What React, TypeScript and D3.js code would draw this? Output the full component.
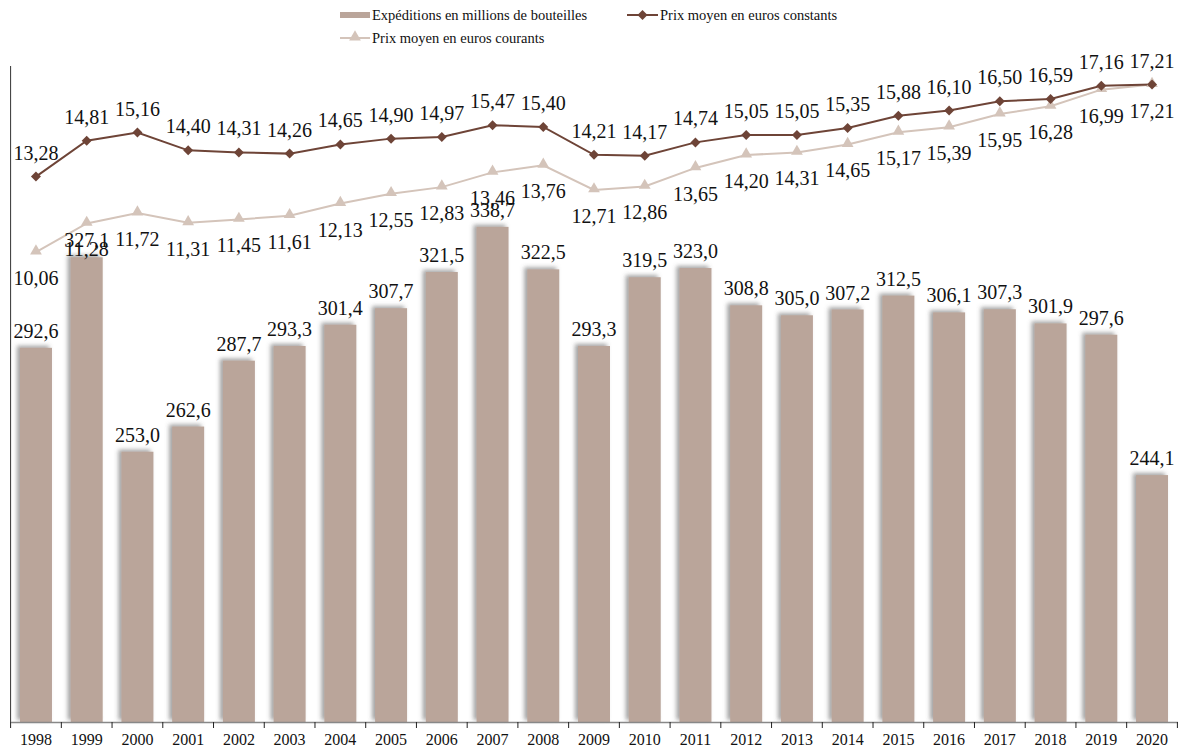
import { useRef, useEffect } from 'react';
import * as d3 from 'd3';

const years = ['1998', '1999', '2000', '2001', '2002', '2003', '2004', '2005', '2006', '2007', '2008', '2009', '2010', '2011', '2012', '2013', '2014', '2015', '2016', '2017', '2018', '2019', '2020'];
const shipments = [292.6, 327.1, 253.0, 262.6, 287.7, 293.3, 301.4, 307.7, 321.5, 338.7, 322.5, 293.3, 319.5, 323.0, 308.8, 305.0, 307.2, 312.5, 306.1, 307.3, 301.9, 297.6, 244.1];
const constantPrice = [13.28, 14.81, 15.16, 14.40, 14.31, 14.26, 14.65, 14.90, 14.97, 15.47, 15.40, 14.21, 14.17, 14.74, 15.05, 15.05, 15.35, 15.88, 16.10, 16.50, 16.59, 17.16, 17.21];
const currentPrice = [10.06, 11.28, 11.72, 11.31, 11.45, 11.61, 12.13, 12.55, 12.83, 13.46, 13.76, 12.71, 12.86, 13.65, 14.20, 14.31, 14.65, 15.17, 15.39, 15.95, 16.28, 16.99, 17.21];

const BAR = '#BAA59A';
const DARK = '#6E4437';
const LIGHT = '#D4C4BA';
const FONT = "'Liberation Serif', 'DejaVu Serif', serif";

const fmt = (v: number, d: number) => v.toFixed(d).replace('.', ',');

export default function App() {
  const svgRef = useRef<SVGSVGElement>(null);

  useEffect(() => {
    if (!svgRef.current) return;
    const svg = d3.select(svgRef.current);
    svg.selectAll('*').remove();

    const left = 10.6;
    const right = 1177.4;
    const top = 66;
    const bottom = 722;

    const x = d3.scaleBand<string>().domain(years).range([left, right]);
    const cx = (i: number) => (x(years[i]) ?? 0) + x.bandwidth() / 2;
    const yBar = d3.scaleLinear().domain([150, 400]).range([bottom, top]);
    const yPrice = d3.scaleLinear().domain([-10, 18]).range([bottom, top]);

    // Shadow filter
    const defs = svg.append('defs');
    const f = defs.append('filter').attr('id', 'shadow').attr('x', '-30%').attr('y', '-10%').attr('width', '160%').attr('height', '120%');
    f.append('feDropShadow')
      .attr('dx', -3)
      .attr('dy', -2)
      .attr('stdDeviation', 2)
      .attr('flood-color', '#555')
      .attr('flood-opacity', 0.55);

    // Bars
    const barW = 32;
    svg.append('g')
      .selectAll('rect')
      .data(shipments)
      .join('rect')
      .attr('x', (_d, i) => cx(i) - barW / 2)
      .attr('y', (d) => yBar(d))
      .attr('width', barW)
      .attr('height', (d) => bottom - yBar(d))
      .attr('fill', BAR)
      .attr('filter', 'url(#shadow)');

    // Axes
    svg.append('line')
      .attr('x1', left).attr('x2', left)
      .attr('y1', top).attr('y2', bottom)
      .attr('stroke', '#333').attr('stroke-width', 1);
    const xAxis = svg.append('g')
      .attr('transform', `translate(0,${bottom})`)
      .call(d3.axisBottom(x).tickSize(0).tickPadding(12));
    xAxis.select('.domain').attr('stroke', '#888').attr('stroke-width', 1.5);
    xAxis.selectAll('text').style('font-family', FONT).style('font-size', '16px').attr('fill', '#111');
    // band boundary ticks
    svg.append('g')
      .selectAll('line')
      .data(d3.range(years.length + 1))
      .join('line')
      .attr('x1', (i) => left + i * x.step())
      .attr('x2', (i) => left + i * x.step())
      .attr('y1', bottom)
      .attr('y2', bottom + 6)
      .attr('stroke', '#222');

    // Lines
    const line = (arr: number[]) =>
      d3.line<number>().x((_d, i) => cx(i)).y((d) => yPrice(d))(arr);

    svg.append('path').attr('d', line(currentPrice)).attr('fill', 'none').attr('stroke', LIGHT).attr('stroke-width', 2);
    svg.append('path').attr('d', line(constantPrice)).attr('fill', 'none').attr('stroke', DARK).attr('stroke-width', 2);

    const tri = d3.symbol().type(d3.symbolTriangle).size(60);
    const dia = d3.symbol().type(d3.symbolSquare).size(50);

    svg.append('g')
      .selectAll('path')
      .data(currentPrice)
      .join('path')
      .attr('d', tri)
      .attr('transform', (d, i) => `translate(${cx(i)},${yPrice(d) - 1})`)
      .attr('fill', LIGHT);

    svg.append('g')
      .selectAll('path')
      .data(constantPrice)
      .join('path')
      .attr('d', dia)
      .attr('transform', (d, i) => `translate(${cx(i)},${yPrice(d)}) rotate(45)`)
      .attr('fill', DARK);

    // Labels
    const labelStyle = (sel: d3.Selection<SVGTextElement, number, SVGGElement, unknown>) =>
      sel.style('font-family', FONT).style('font-size', '20px').attr('fill', '#111').attr('text-anchor', 'middle');

    svg.append('g')
      .selectAll('text')
      .data(shipments)
      .join('text')
      .attr('x', (_d, i) => cx(i))
      .attr('y', (d) => yBar(d) - 10)
      .text((d) => fmt(d, 1))
      .call(labelStyle);

    svg.append('g')
      .selectAll('text')
      .data(constantPrice)
      .join('text')
      .attr('x', (_d, i) => cx(i))
      .attr('y', (d) => yPrice(d) - 17)
      .text((d) => fmt(d, 2))
      .call(labelStyle);

    svg.append('g')
      .selectAll('text')
      .data(currentPrice)
      .join('text')
      .attr('x', (_d, i) => cx(i))
      .attr('y', (d) => yPrice(d) + 33)
      .text((d) => fmt(d, 2))
      .call(labelStyle);

    // Legend
    const lg = svg.append('g').style('font-family', FONT).style('font-size', '14.5px').attr('fill', '#111');
    lg.append('rect').attr('x', 340).attr('y', 12).attr('width', 30).attr('height', 6).attr('fill', BAR);
    lg.append('text').attr('x', 372).attr('y', 20).text('Expéditions en millions de bouteilles');

    lg.append('line').attr('x1', 627).attr('x2', 658).attr('y1', 15).attr('y2', 15).attr('stroke', DARK).attr('stroke-width', 2);
    lg.append('path').attr('d', dia).attr('transform', 'translate(642.5,15) rotate(45)').attr('fill', DARK);
    lg.append('text').attr('x', 660).attr('y', 20).text('Prix moyen en euros constants');

    lg.append('line').attr('x1', 340).attr('x2', 370).attr('y1', 38).attr('y2', 38).attr('stroke', LIGHT).attr('stroke-width', 2);
    lg.append('path').attr('d', tri).attr('transform', 'translate(355,37)').attr('fill', LIGHT);
    lg.append('text').attr('x', 372).attr('y', 43).text('Prix moyen en euros courants');
  }, []);

  return (
    <svg
      ref={svgRef}
      width={1180}
      height={753}
      style={{ position: 'absolute', left: 0, top: 0, background: '#fff', display: 'block' }}
    />
  );
}
